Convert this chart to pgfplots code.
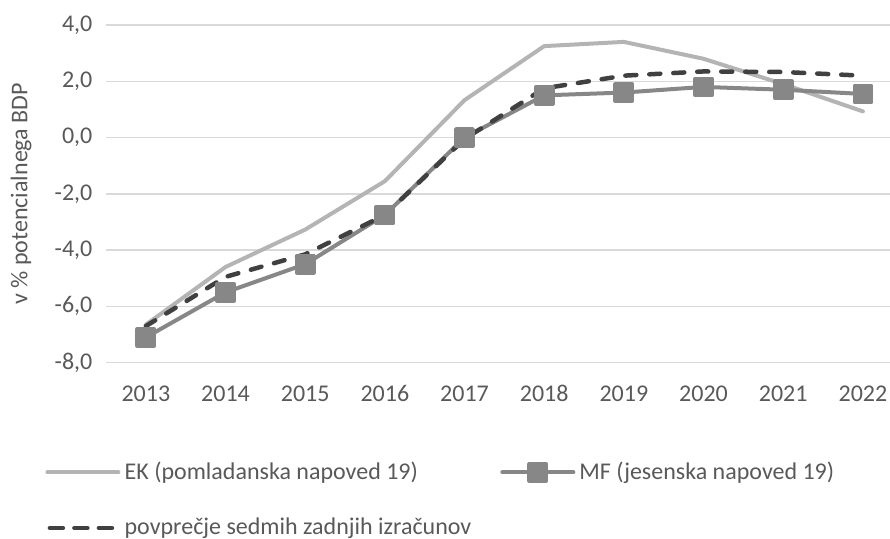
\documentclass[border=0pt]{standalone}
\usepackage{fontspec}
\setmainfont{Carlito}
\usepackage{pgfplots}
\pgfplotsset{compat=1.18}
\definecolor{txt}{HTML}{595959}
\definecolor{grd}{HTML}{D9D9D9}
\definecolor{ekc}{HTML}{B4B4B4}
\definecolor{mfc}{HTML}{878787}
\definecolor{avc}{HTML}{404040}
\pgfplotsset{
    linelegend/.style={legend image code/.code={\draw[##1] (0pt,0pt) -- (35.5pt,0pt);}},
    dashlegend/.style={legend image code/.code={\draw[##1, dash pattern=on 6.5pt off 5.75pt] (1.25pt,0pt) -- (35.5pt,0pt);}},
    marklegend/.style={legend image code/.code={\draw[mark repeat=2, mark phase=2, ##1] plot coordinates {(0pt,0pt)(17.75pt,0pt)(35.5pt,0pt)};}},
}
\begin{document}
\begin{tikzpicture}[font=\fontsize{12}{14}\selectfont]
\begin{axis}[
    scale only axis,
    width=392pt, height=168.85pt,
    xmin=-0.5, xmax=9.34,
    ymin=-8, ymax=4,
    clip=false,
    axis line style={draw=none},
    major tick length=0pt,
    xtick={0,...,9},
    xticklabels={2013,2014,2015,2016,2017,2018,2019,2020,2021,2022},
    ytick={-8,-6,...,4},
    ymajorgrids=true,
    grid style={grd, line width=0.75pt},
    tick label style={text=txt},
    xticklabel style={anchor=base, yshift=-19.6pt},
    yticklabel style={xshift=-3.3pt, /pgf/number format/.cd, fixed, fixed zerofill, precision=1, use comma},
    /pgf/number format/assume math mode=true,
    ylabel={v \% potencialnega BDP},
    ylabel style={text=txt, at={(axis description cs:-0.1084,0.5)}, anchor=center},
    legend columns=2,
    legend cell align=left,
    legend style={
        at={(axis description cs:0,0)}, anchor=north west,
        xshift=-30.5pt, yshift=-47.5pt,
        draw=none, fill=none, inner sep=0pt, text=txt,
        row sep=13.7pt,
        /tikz/every even column/.append style={column sep=12.5pt},
    },
]
\addplot[linelegend, ekc, line width=2pt, line cap=round, line join=round] coordinates {
    (0,-6.65)(1,-4.6)(2,-3.27)(3,-1.55)(4,1.33)(5,3.25)(6,3.4)(7,2.8)(8,1.9)(9,0.93)
};
\addlegendentry{EK (pomladanska napoved 19)}
\addplot[marklegend, mfc, line width=2pt, line cap=round, line join=round,
    mark=square*, mark size=4.2pt, mark options={solid, fill=mfc, draw=none}
    ] coordinates {
    (0,-7.1)(1,-5.5)(2,-4.5)(3,-2.75)(4,0.0)(5,1.5)(6,1.6)(7,1.8)(8,1.7)(9,1.55)
};
\addlegendentry{MF (jesenska napoved 19)}
\addplot[dashlegend, avc, line width=2.25pt, line cap=round, dash pattern=on 5.5pt off 6.5pt] coordinates {
    (0,-6.7)(1,-4.95)(2,-4.15)(3,-2.75)(4,-0.05)(5,1.75)(6,2.2)(7,2.35)(8,2.33)(9,2.2)
};
\addlegendentry{povprečje sedmih zadnjih izračunov}
\end{axis}
\pgfresetboundingbox
\path (-53pt,-88.15pt) rectangle (392pt,181.35pt);
\end{tikzpicture}
\end{document}
